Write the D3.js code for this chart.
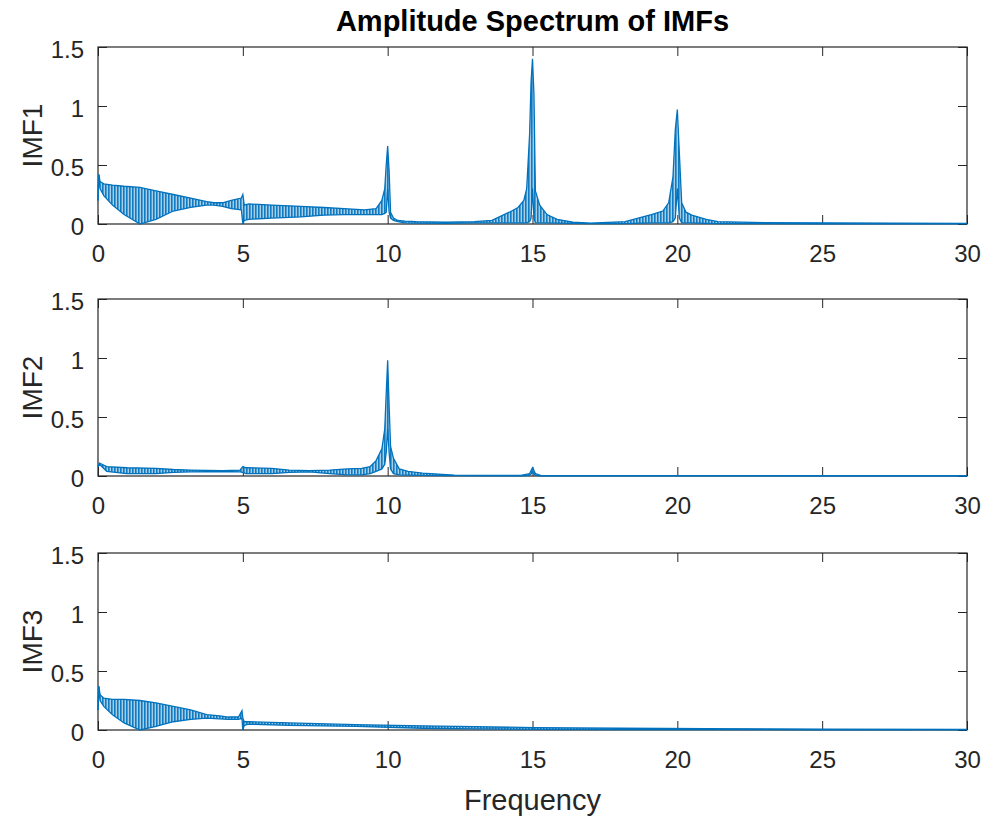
<html>
<script src='https://d3js.org/d3.v7.min.js'></script>
<style>
body {margin:0; background:#fff;}
text {font-family: 'Liberation Sans', Arial, sans-serif; fill:#262626;}
</style>
<body onload='init()'>
<svg width=986 height=819></svg>
<script>
// frequency / envelope values
const imf1_freq  = [0, 0.03, 0.07, 0.2, 0.5, 0.9, 1.45, 2.0, 2.6, 3.2, 3.75, 4.0, 4.3, 4.6, 4.95, 5.0, 5.05, 5.2, 6.0, 7.0, 7.8, 8.5, 9.2, 9.6, 9.8, 9.9, 9.95, 10.0, 10.05, 10.1, 10.2, 10.35, 10.6, 11.0, 12.0, 13.0, 13.6, 14.2, 14.5, 14.7, 14.8, 14.9, 14.95, 15.0, 15.05, 15.1, 15.25, 15.5, 15.85, 16.4, 17.0, 18.2, 19.1, 19.5, 19.7, 19.85, 19.93, 20.0, 20.07, 20.15, 20.3, 20.5, 21.0, 21.4, 23, 25, 27.5, 30];
const imf1_upper = [0.2, 0.42, 0.36, 0.34, 0.33, 0.32, 0.31, 0.28, 0.25, 0.22, 0.19, 0.18, 0.18, 0.2, 0.22, 0.25, 0.16, 0.17, 0.16, 0.15, 0.14, 0.13, 0.12, 0.13, 0.2, 0.3, 0.5, 0.66, 0.45, 0.1, 0.05, 0.03, 0.025, 0.02, 0.015, 0.02, 0.03, 0.1, 0.14, 0.2, 0.3, 0.76, 1.2, 1.4, 1.1, 0.28, 0.16, 0.08, 0.04, 0.015, 0.008, 0.02, 0.08, 0.11, 0.18, 0.4, 0.8, 0.97, 0.6, 0.18, 0.1, 0.075, 0.04, 0.02, 0.012, 0.01, 0.008, 0.006];
const imf1_lower = [0.2, 0.42, 0.3, 0.24, 0.16, 0.08, 0.0, 0.04, 0.11, 0.14, 0.16, 0.16, 0.15, 0.13, 0.12, 0.0, 0.03, 0.04, 0.05, 0.06, 0.075, 0.08, 0.08, 0.08, 0.08, 0.09, 0.1, 0.3, 0.1, 0.05, 0.03, 0.02, 0.01, 0.008, 0.006, 0.01, 0.01, 0.01, 0.01, 0.01, 0.01, 0.02, 0.05, 0.3, 0.05, 0.01, 0.01, 0.01, 0.008, 0.005, 0.003, 0.003, 0.01, 0.01, 0.01, 0.02, 0.05, 0.3, 0.05, 0.01, 0.01, 0.01, 0.005, 0.003, 0.003, 0.002, 0.002, 0.002];

const imf2_freq  = [0, 0.05, 0.3, 1.0, 2.0, 2.6, 3.2, 4.3, 4.9, 5.0, 5.1, 6.0, 6.6, 7.3, 8.0, 8.6, 9.1, 9.4, 9.6, 9.8, 9.9, 9.95, 10.0, 10.05, 10.1, 10.2, 10.4, 10.7, 11.2, 12.3, 13.5, 14.6, 14.9, 15.0, 15.1, 15.3, 17, 20, 25, 30];
const imf2_upper = [0.08, 0.11, 0.08, 0.07, 0.065, 0.055, 0.05, 0.045, 0.05, 0.08, 0.07, 0.065, 0.05, 0.045, 0.05, 0.06, 0.065, 0.08, 0.13, 0.23, 0.4, 0.7, 0.98, 0.6, 0.25, 0.15, 0.06, 0.04, 0.025, 0.008, 0.005, 0.005, 0.02, 0.07, 0.02, 0.004, 0.003, 0.003, 0.002, 0.002];
const imf2_lower = [0.08, 0.1, 0.04, 0.02, 0.02, 0.03, 0.035, 0.038, 0.035, 0.03, 0.02, 0.02, 0.03, 0.035, 0.02, 0.01, 0.01, 0.02, 0.04, 0.06, 0.1, 0.2, 0.4, 0.2, 0.06, 0.02, 0.01, 0.008, 0.005, 0.003, 0.002, 0.002, 0.005, 0.03, 0.005, 0.002, 0.002, 0.002, 0.001, 0.001];

const imf3_freq  = [0, 0.03, 0.07, 0.2, 0.5, 0.9, 1.45, 2.0, 2.6, 3.2, 3.75, 4.2, 4.5, 4.85, 4.97, 5.0, 5.05, 5.2, 6.6, 8.9, 11.2, 13, 15.1, 18, 21, 25, 30];
const imf3_upper = [0.17, 0.37, 0.3, 0.27, 0.26, 0.26, 0.25, 0.23, 0.2, 0.17, 0.13, 0.12, 0.11, 0.11, 0.165, 0.1, 0.07, 0.07, 0.06, 0.045, 0.035, 0.028, 0.02, 0.015, 0.012, 0.008, 0.006];
const imf3_lower = [0.17, 0.37, 0.25, 0.2, 0.13, 0.06, 0.0, 0.03, 0.07, 0.09, 0.1, 0.095, 0.09, 0.09, 0.1, 0.0, 0.04, 0.05, 0.04, 0.03, 0.015, 0.01, 0.005, 0.004, 0.003, 0.002, 0.002];

const panel_names = ["IMF1", "IMF2", "IMF3"];
const x_ticks = [0, 5, 10, 15, 20, 25, 30];
const y_ticks = [0, 0.5, 1, 1.5];

function init() {

var left = 98, right = 967;
var panel_tops = [47, 299, 553];
var panel_h = 177;
var blue = "#0072BD";

var svg = d3.select("svg");

// dense oscillation look: vertical stripes
var pat = svg.append("defs").append("pattern")
  .attr("id", "stripes")
  .attr("patternUnits", "userSpaceOnUse")
  .attr("width", 3).attr("height", 10);
pat.append("rect").attr("width", 3).attr("height", 10).attr("fill", blue).attr("fill-opacity", 0.35);
pat.append("rect").attr("width", 1.6).attr("height", 10).attr("fill", blue).attr("fill-opacity", 0.9);

var series = [
  {freq: imf1_freq, upper: imf1_upper, lower: imf1_lower},
  {freq: imf2_freq, upper: imf2_upper, lower: imf2_lower},
  {freq: imf3_freq, upper: imf3_upper, lower: imf3_lower}
];

var xScale = d3.scaleLinear().domain([0, 30]).range([left, right]);

series.forEach(function(s, k) {
  var top = panel_tops[k];
  var yScale = d3.scaleLinear().domain([0, 1.5]).range([top + panel_h, top]);
  var pts = s.freq.map((f, i) => ({f: f, u: s.upper[i], l: s.lower[i]}));

  var g = svg.append("g");

  // x axis bottom with labels, ticks inward
  g.append("g")
    .attr("transform", "translate(0," + (top + panel_h) + ")")
    .call(d3.axisBottom(xScale).tickValues(x_ticks).tickSize(-9).tickPadding(21))
    .call(a => a.select(".domain").remove())
    .call(a => a.selectAll("text").style("font-size", "24px").attr("fill", "#262626"));
  // top mirror ticks
  g.append("g")
    .attr("transform", "translate(0," + top + ")")
    .call(d3.axisTop(xScale).tickValues(x_ticks).tickSize(-9).tickFormat(""))
    .call(a => a.select(".domain").remove());
  // y axis left
  g.append("g")
    .attr("transform", "translate(" + left + ",0)")
    .call(d3.axisLeft(yScale).tickValues(y_ticks).tickSize(-9).tickPadding(14).tickFormat(d3.format("~g")))
    .call(a => a.select(".domain").remove())
    .call(a => a.selectAll("text").style("font-size", "24px").attr("fill", "#262626").attr("dy", "0.45em"));
  // right mirror ticks
  g.append("g")
    .attr("transform", "translate(" + right + ",0)")
    .call(d3.axisRight(yScale).tickValues(y_ticks).tickSize(-9).tickFormat(""))
    .call(a => a.select(".domain").remove());

  g.selectAll(".tick line").attr("stroke", "#262626");

  // box
  g.append("rect")
    .attr("x", left).attr("y", top)
    .attr("width", right - left).attr("height", panel_h)
    .attr("fill", "none").attr("stroke", "#262626").attr("stroke-width", 1.2);

  // spectrum band
  g.append("path")
    .datum(pts)
    .attr("d", d3.area().x(d => xScale(d.f)).y0(d => yScale(d.l)).y1(d => yScale(d.u)))
    .attr("fill", "url(#stripes)");
  g.append("path")
    .datum(pts)
    .attr("d", d3.line().x(d => xScale(d.f)).y(d => yScale(d.u)))
    .attr("fill", "none").attr("stroke", blue).attr("stroke-width", 1.3);
  g.append("path")
    .datum(pts)
    .attr("d", d3.line().x(d => xScale(d.f)).y(d => yScale(d.l)))
    .attr("fill", "none").attr("stroke", blue).attr("stroke-width", 1.3);

  // y label
  var ly = top + panel_h / 2;
  g.append("text")
    .text(panel_names[k])
    .attr("text-anchor", "middle")
    .attr("transform", "translate(42," + ly + ") rotate(-90)")
    .style("font-size", "28px");
});

//title
svg.append("text")
  .text("Amplitude Spectrum of IMFs")
  .attr("x", (left + right) / 2)
  .attr("y", 31)
  .attr("text-anchor", "middle")
  .style("font-size", "29px")
  .style("font-weight", "bold")
  .style("fill", "#000");

//x label
svg.append("text")
  .text("Frequency")
  .attr("x", (left + right) / 2)
  .attr("y", 810)
  .attr("text-anchor", "middle")
  .style("font-size", "29px");
}
</script>
</body>
</html>
